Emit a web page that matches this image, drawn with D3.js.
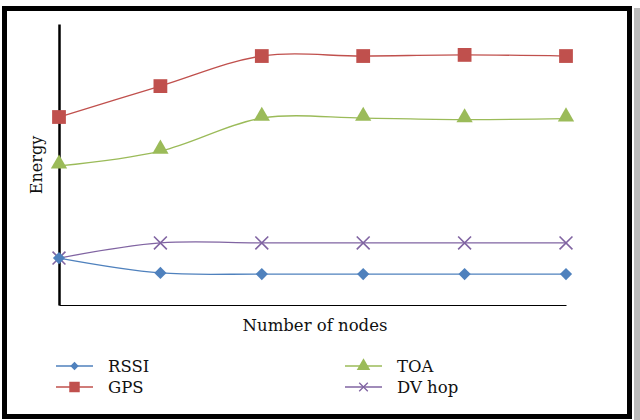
<!DOCTYPE html>
<html>
<head>
<meta charset="utf-8">
<script src="https://cdn.jsdelivr.net/npm/d3@7"></script>
<style>
  body { margin: 0; background: #fff; }
  svg { display: block; font-family: "DejaVu Serif", "Liberation Serif", serif; }
</style>
</head>
<body>
<div id="chart"></div>
<script>
// x positions (node counts, unlabelled in the source)
const steps = [1, 2, 3, 4, 5, 6];
// energy, arbitrary units (no ticks in source)
const rssi  = [16.7, 11.4, 11.0, 11.0, 11.0, 11.0];
const gps   = [66.9, 77.9, 88.6, 88.6, 89.0, 88.6];
const toa   = [49.5, 54.8, 66.5, 66.5, 66.0, 66.3];
const dvhop = [16.7, 22.1, 22.1, 22.1, 22.1, 22.1];

const seriesNames = ["RSSI", "GPS", "TOA", "DV hop"];
const colors = ["#4f81bd", "#c0504d", "#9bbb59", "#8064a2"];
const symbols = [d3.symbolDiamond2, d3.symbolSquare, d3.symbolTriangle, d3.symbolX];

const W = 640, H = 420;
const svg = d3.select("#chart").append("svg")
    .attr("width", W)
    .attr("height", H);

svg.append("rect").attr("width", W).attr("height", H).attr("fill", "#fff");

// frame with shadow
svg.append("rect")
    .attr("x", 634).attr("y", 8).attr("width", 6).attr("height", 412)
    .attr("fill", "#bbb");
svg.append("rect")
    .attr("x", 4.5).attr("y", 8.5).attr("width", 625).attr("height", 408)
    .attr("fill", "none").attr("stroke", "#000").attr("stroke-width", 5);

const x = d3.scaleLinear().domain([1, 6]).range([59, 566]);
const y = d3.scaleLinear().domain([0, 100]).range([305, 24]);

// axes (no ticks)
svg.append("g")
    .attr("transform", "translate(0,305)")
    .call(d3.axisBottom(x).tickValues([]).tickSizeOuter(0))
    .call(g => g.select(".domain").attr("stroke", "#000").attr("stroke-width", 1));
svg.append("g")
    .attr("transform", "translate(59,0)")
    .call(d3.axisLeft(y).tickValues([]).tickSizeOuter(0))
    .call(g => g.select(".domain").attr("stroke", "#000").attr("stroke-width", 2.5));

const data = [rssi, gps, toa, dvhop].map((vals, i) => ({
    name: seriesNames[i],
    color: colors[i],
    symbol: symbols[i],
    values: vals.map((v, j) => ({ x: steps[j], y: v }))
}));

const line = d3.line()
    .x(d => x(d.x))
    .y(d => y(d.y))
    .curve(d3.curveCatmullRom.alpha(0.5));

const sizes = [95, 190, 115, 110];

// draw back to front: DV hop, TOA, GPS, RSSI
[3, 2, 1, 0].forEach(i => {
    const s = data[i];
    const g = svg.append("g");
    g.append("path")
        .attr("d", line(s.values))
        .attr("fill", "none")
        .attr("stroke", s.color)
        .attr("stroke-width", 1.3);
    g.selectAll("path.mark")
        .data(s.values)
        .enter()
        .append("path")
        .attr("class", "mark")
        .attr("transform", d => `translate(${x(d.x)},${y(d.y) - (i === 2 ? 2 : 0)})`)
        .attr("d", d3.symbol().type(s.symbol).size(sizes[i]))
        .attr("fill", i === 3 ? "none" : s.color)
        .attr("stroke", s.color)
        .attr("stroke-width", i === 3 ? 1.6 : 0);
});

// axis titles
svg.append("text")
    .attr("transform", "translate(42,165) rotate(-90)")
    .attr("text-anchor", "middle")
    .attr("font-size", 16)
    .attr("fill", "#111")
    .text("Energy");

svg.append("text")
    .attr("x", 315).attr("y", 331)
    .attr("text-anchor", "middle")
    .attr("font-size", 16.5)
    .attr("fill", "#111")
    .text("Number of nodes");

// legend
const legendPos = [
    { lx: 56, ly: 366 },
    { lx: 56, ly: 387 },
    { lx: 345, ly: 366 },
    { lx: 345, ly: 387 }
];
const legendSizes = [45, 110, 80, 50];
data.forEach((s, i) => {
    const p = legendPos[i];
    const g = svg.append("g").attr("transform", `translate(${p.lx},${p.ly})`);
    g.append("line")
        .attr("x1", 0).attr("x2", 37)
        .attr("stroke", s.color).attr("stroke-width", 1.3);
    g.append("path")
        .attr("transform", "translate(18.5,0)")
        .attr("d", d3.symbol().type(s.symbol).size(legendSizes[i]))
        .attr("fill", i === 3 ? "none" : s.color)
        .attr("stroke", s.color)
        .attr("stroke-width", i === 3 ? 1.3 : 0);
    g.append("text")
        .attr("x", 52).attr("y", 6)
        .attr("font-size", 16.5)
        .attr("fill", "#111")
        .text(s.name);
});
</script>
</body>
</html>
